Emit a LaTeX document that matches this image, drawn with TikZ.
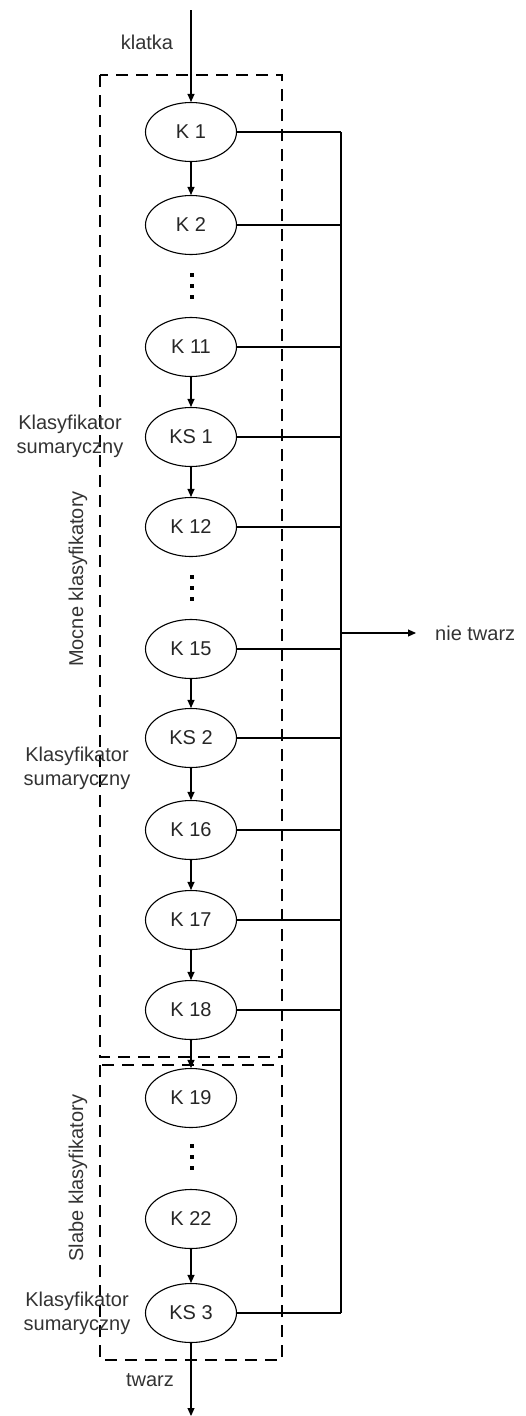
\documentclass[tikz,border=0pt]{standalone}
\usepackage{fontspec}
\setmainfont{Liberation Sans}
\usetikzlibrary{shapes.geometric,arrows.meta}
\begin{document}
\begin{tikzpicture}[x=1pt,y=-1pt,
  font=\fontsize{20}{24}\selectfont,
  cls/.style={draw, ellipse, line width=1.1pt, minimum width=91pt, minimum height=59pt, inner sep=0pt, text=black!85},
  conn/.style={line width=1.1pt},
  arr/.style={line width=1.1pt, -{Triangle[length=8pt,width=7pt]}},
  grp/.style={draw, line width=1.1pt, dash pattern=on 12pt off 8pt},
  lbl/.style={text=black!80, inner sep=0pt},
  dotsq/.style={fill=black, minimum size=4pt, inner sep=0pt, draw=none, rectangle}]
\useasboundingbox (0,0) rectangle (526,1416);
% dashed groups
\draw[grp] (100,75) rectangle (282,1057);
\draw[grp] (100,1065) rectangle (282,1360);
% classifiers
\node[cls] (k1) at (191,132) {K 1};
\node[cls] (k2) at (191,225) {K 2};
\node[cls] (k11) at (191,347) {K 11};
\node[cls] (ks1) at (191,437) {KS 1};
\node[cls] (k12) at (191,527) {K 12};
\node[cls] (k15) at (191,649) {K 15};
\node[cls] (ks2) at (191,738) {KS 2};
\node[cls] (k16) at (191,830) {K 16};
\node[cls] (k17) at (191,920) {K 17};
\node[cls] (k18) at (191,1010) {K 18};
\node[cls] (k19) at (191,1098) {K 19};
\node[cls] (k22) at (191,1219) {K 22};
\node[cls] (ks3) at (191,1313) {KS 3};
% dots
\foreach \y [count=\i] in {275,286,297} {\node[dotsq] (da\i) at (192,\y) {};}
\foreach \y [count=\i] in {577,588,599} {\node[dotsq] (db\i) at (192,\y) {};}
\foreach \y [count=\i] in {1146,1157,1168} {\node[dotsq] (dc\i) at (192,\y) {};}
% input / output
\coordinate (in) at (191,10);
\coordinate (out) at (191,1416);
\draw[arr] (in) -- (k1);
\draw[arr] (ks3) -- (out);
% chain arrows
\draw[arr] (k1) -- (k2);
\draw[arr] (k11) -- (ks1);
\draw[arr] (ks1) -- (k12);
\draw[arr] (k15) -- (ks2);
\draw[arr] (ks2) -- (k16);
\draw[arr] (k16) -- (k17);
\draw[arr] (k17) -- (k18);
\draw[arr] (k18) -- (k19);
\draw[arr] (k22) -- (ks3);
% bus
\coordinate (bt) at (341,132);
\coordinate (bb) at (341,1313);
\coordinate (bn) at (341,633);
\coordinate (nt) at (416,633);
\draw[conn] (bt) -- (bb);
\foreach \n in {k1,k2,k11,ks1,k12,k15,ks2,k16,k17,k18,ks3} {
  \draw[conn] (\n.east) -- (\n.east -| bt);
}
\draw[arr] (bn) -- (nt);
% labels
\node[lbl] (lklatka) at (147,42) {klatka};
\node[lbl] (ltwarz) at (150,1380) {twarz};
\node[lbl, anchor=west] (lnie) at (435,633) {nie twarz};
\node[lbl, align=center] (lks1) at (70,436) {Klasyfikator\\sumaryczny};
\node[lbl, align=center] (lks2) at (77,768) {Klasyfikator\\sumaryczny};
\node[lbl, align=center] (lks3) at (77,1313) {Klasyfikator\\sumaryczny};
\node[lbl, rotate=90] (lmocne) at (78,579) {Mocne klasyfikatory};
\node[lbl, rotate=90] (lslabe) at (78,1178) {Slabe klasyfikatory};
\end{tikzpicture}
\end{document}
